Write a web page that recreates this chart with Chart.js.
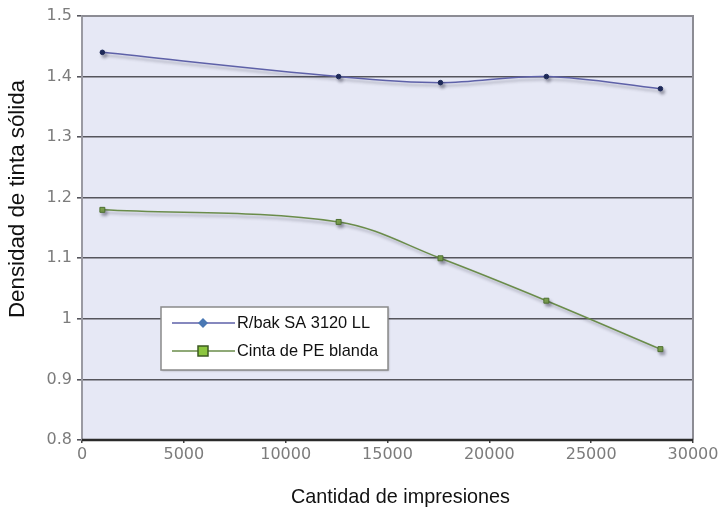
<!DOCTYPE html>
<html>
<head>
<meta charset="utf-8">
<script src="https://cdn.jsdelivr.net/npm/chart.js@4/dist/chart.umd.min.js"></script>
<style>
    html, body { margin: 0; padding: 0; background: #fff; }
    #wrap { width: 724px; height: 512px; }
</style>
</head>
<body>
<div id="wrap"><canvas id="linechart"></canvas></div>
<script>
"use strict";

// Data
const impresiones = [1000, 12600, 17600, 22800, 28400];
const rbakValues  = [1.44, 1.40, 1.39, 1.40, 1.38];
const cintaValues = [1.18, 1.16, 1.10, 1.03, 0.95];
const seriesNames = ['R/bak SA 3120 LL', 'Cinta de PE blanda'];
const xTitle = 'Cantidad de impresiones';
const yTitle = 'Densidad de tinta sólida';

const TITLE_FONT = '"Liberation Sans", Arial, sans-serif';

function toPoints(xs, ys) {
    return xs.map((x, i) => ({ x: x, y: ys[i] }));
}

// Draw text squeezed horizontally to a given width (condensed look)
function condensedText(ctx, text, x, y, width) {
    const w = ctx.measureText(text).width;
    ctx.save();
    ctx.translate(x, y);
    ctx.scale(width / w, 1);
    ctx.fillText(text, 0, 0);
    ctx.restore();
}

// Light lavender plot background, line shadows, frame
const plotBackground = {
    id: 'plotBackground',
    beforeDraw(chart) {
        const a = chart.chartArea, ctx = chart.ctx;
        ctx.save();
        ctx.fillStyle = '#e6e8f5';
        ctx.fillRect(a.left, a.top, a.right - a.left, a.bottom - a.top);
        ctx.restore();
    },
    beforeDatasetDraw(chart) {
        const ctx = chart.ctx;
        ctx.save();
        ctx.shadowColor = 'rgba(40,40,60,0.35)';
        ctx.shadowBlur = 3;
        ctx.shadowOffsetX = 2;
        ctx.shadowOffsetY = 3;
    },
    afterDatasetDraw(chart) {
        chart.ctx.restore();
    },
    afterDraw(chart) {
        const a = chart.chartArea, ctx = chart.ctx;
        ctx.save();
        ctx.strokeStyle = '#8c8c94';
        ctx.lineWidth = 2;
        ctx.beginPath();
        ctx.moveTo(a.left, a.top);
        ctx.lineTo(a.right, a.top);
        ctx.lineTo(a.right, a.bottom);
        ctx.stroke();
        ctx.strokeStyle = '#2a2a2a';
        ctx.lineWidth = 2.5;
        ctx.beginPath();
        ctx.moveTo(a.left, a.bottom);
        ctx.lineTo(a.right, a.bottom);
        ctx.stroke();

        // Axis titles
        ctx.fillStyle = '#111';
        ctx.textAlign = 'left';
        ctx.textBaseline = 'middle';
        ctx.font = '21px ' + TITLE_FONT;
        condensedText(ctx, xTitle, 291, 497, 219);
        ctx.save();
        ctx.translate(18, 318);
        ctx.rotate(-Math.PI / 2);
        ctx.font = '22px ' + TITLE_FONT;
        condensedText(ctx, yTitle, 0, 0, 238);
        ctx.restore();
        ctx.restore();
    }
};

// Legend box inside the plot area
const boxLegend = {
    id: 'boxLegend',
    afterDraw(chart) {
        const ctx = chart.ctx;
        const x0 = 161, y0 = 307, w = 227, h = 63;
        ctx.save();
        ctx.shadowColor = 'rgba(0,0,0,0.25)';
        ctx.shadowBlur = 2;
        ctx.shadowOffsetX = 1;
        ctx.shadowOffsetY = 1;
        ctx.fillStyle = '#ffffff';
        ctx.fillRect(x0, y0, w, h);
        ctx.shadowColor = 'transparent';
        ctx.strokeStyle = '#8a8a8a';
        ctx.lineWidth = 1.5;
        ctx.strokeRect(x0, y0, w, h);
        ctx.font = '17px ' + TITLE_FONT;
        ctx.textBaseline = 'middle';
        ctx.textAlign = 'left';
        const squeeze = 133 / ctx.measureText(chart.data.datasets[0].label).width;
        chart.data.datasets.forEach((ds, i) => {
            const y = y0 + 16 + i * 28;
            ctx.strokeStyle = ds.borderColor;
            ctx.lineWidth = 1.5;
            ctx.beginPath();
            ctx.moveTo(x0 + 11, y);
            ctx.lineTo(x0 + 74, y);
            ctx.stroke();
            const cx = x0 + 42;
            if (i === 0) {
                ctx.fillStyle = '#4a78b4';
                ctx.beginPath();
                ctx.moveTo(cx, y - 5);
                ctx.lineTo(cx + 5, y);
                ctx.lineTo(cx, y + 5);
                ctx.lineTo(cx - 5, y);
                ctx.closePath();
                ctx.fill();
            } else {
                ctx.fillStyle = '#8cc63f';
                ctx.fillRect(cx - 5, y - 5, 10, 10);
                ctx.strokeStyle = '#3c5a22';
                ctx.lineWidth = 1.5;
                ctx.strokeRect(cx - 5, y - 5, 10, 10);
            }
            ctx.fillStyle = '#111';
            const tw = ctx.measureText(ds.label).width * squeeze;
            condensedText(ctx, ds.label, x0 + 76, y, tw);
        });
        ctx.restore();
    }
};

new Chart(document.getElementById('linechart'), {
    type: 'line',
    data: {
        datasets: [
            {
                label: seriesNames[0],
                data: toPoints(impresiones, rbakValues),
                borderColor: '#5e61a8',
                borderWidth: 1.5,
                pointStyle: 'circle',
                pointRadius: 2.3,
                pointBackgroundColor: '#1e2a5a',
                pointBorderColor: '#1e2a5a',
                pointBorderWidth: 1,
                tension: 0.35,
                fill: false
            },
            {
                label: seriesNames[1],
                data: toPoints(impresiones, cintaValues),
                borderColor: '#6a8c4a',
                borderWidth: 1.5,
                pointStyle: 'rect',
                pointRadius: 3.5,
                pointBackgroundColor: '#7ea44e',
                pointBorderColor: '#4c6e30',
                pointBorderWidth: 1,
                tension: 0.35,
                fill: false
            }
        ]
    },
    options: {
        responsive: true,
        maintainAspectRatio: false,
        animation: false,
        layout: { padding: { left: 0, right: 31, top: 16, bottom: 0 } },
        plugins: {
            legend: { display: false },
            tooltip: { enabled: false }
        },
        scales: {
            x: {
                type: 'linear',
                min: 0,
                max: 30000,
                afterFit(scale) { scale.height = 72; },
                border: { display: false },
                grid: {
                    drawOnChartArea: false,
                    drawTicks: true,
                    tickLength: 3,
                    color: '#444',
                    lineWidth: 1.5
                },
                ticks: {
                    stepSize: 5000,
                    color: '#7c7c7c',
                    padding: 2,
                    font: { family: '"DejaVu Sans", sans-serif', size: 16 },
                    callback: (v) => String(v)
                }
            },
            y: {
                min: 0.8,
                max: 1.5,
                afterFit(scale) { scale.width = 82; },
                border: { display: true, color: '#9a9aa2', width: 2 },
                grid: {
                    color: '#55555c',
                    lineWidth: 1.6,
                    tickLength: 5
                },
                ticks: {
                    stepSize: 0.1,
                    color: '#7c7c7c',
                    padding: 5,
                    font: { family: '"DejaVu Sans", sans-serif', size: 16 },
                    callback: (v) => String(Math.round(v * 10) / 10)
                }
            }
        }
    },
    plugins: [plotBackground, boxLegend]
});
</script>
</body>
</html>
